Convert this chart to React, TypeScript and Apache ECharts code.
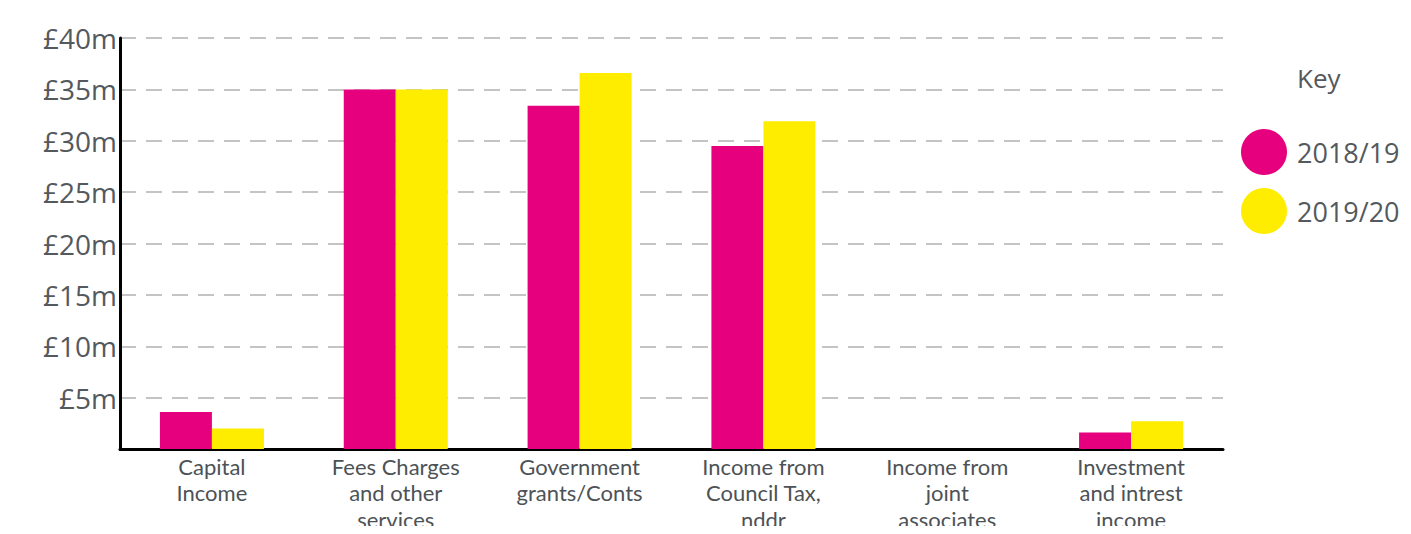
import React, { useEffect, useRef } from "react";
import * as echarts from "echarts";

const categories = [
  "Capital\nIncome",
  "Fees Charges\nand other\nservices",
  "Government\ngrants/Conts",
  "Income from\nCouncil Tax,\nnddr",
  "Income from\njoint\nassociates",
  "Investment\nand intrest\nincome",
];
const series2018 = [3.6, 35.0, 33.4, 29.5, 0, 1.6];
const series2019 = [2.0, 35.0, 36.6, 31.9, 0, 2.7];
const seriesNames = ["2018/19", "2019/20"];
const yTicks = [0, 5, 10, 15, 20, 25, 30, 35, 40];

const PINK = "#E6007E";
const YELLOW = "#FFED00";
const TEXT = "#54595d";
const FONT = "'Open Sans', 'Noto Sans', sans-serif";
const LABEL_FONT = "Lato, 'Open Sans', sans-serif";

export default function App() {
  const ref = useRef<HTMLDivElement>(null);
  useEffect(() => {
    if (!ref.current) return;
    const chart = echarts.init(ref.current, null, { renderer: "svg" });
    chart.setOption({
      animation: false,
      backgroundColor: "#ffffff",
      textStyle: { fontFamily: FONT },
      title: {
        text: "Key",
        left: 1292,
        top: 60,
        textStyle: { fontSize: 26, fontWeight: "normal", color: TEXT, fontFamily: FONT },
      },
      legend: {
        orient: "vertical",
        left: 1236,
        top: 124,
        icon: "circle",
        itemWidth: 46,
        itemHeight: 46,
        itemGap: 13,
        textStyle: { fontSize: 27, color: TEXT, fontFamily: FONT, padding: [0, 0, 0, 5] },
        data: seriesNames,
      },
      grid: {
        left: 120,
        right: 188,
        top: 38,
        bottom: 85,
        containLabel: false,
        outerBoundsMode: "none",
      },
      xAxis: {
        type: "category",
        data: categories,
        axisLine: { lineStyle: { color: "#000", width: 3 } },
        axisTick: { show: false },
        axisLabel: {
          fontSize: 22,
          lineHeight: 26.5,
          color: "#4d5256",
          margin: 4,
          interval: 0,
          fontFamily: LABEL_FONT,
        },
      },
      yAxis: {
        type: "value",
        min: yTicks[0],
        max: yTicks[yTicks.length - 1],
        interval: 5,
        axisLine: { show: true, lineStyle: { color: "#000", width: 3 } },
        axisTick: { show: false },
        axisLabel: {
          fontSize: 28,
          color: TEXT,
          margin: 3,
          fontFamily: FONT,
          formatter: (v: number) => (v === 0 ? "" : `£${v}m`),
        },
        splitLine: {
          show: true,
          lineStyle: { color: "#c4c4c4", width: 2, type: [16, 10] },
        },
      },
      series: [
        {
          name: seriesNames[0],
          type: "bar",
          data: series2018,
          barWidth: 52,
          barGap: "0%",
          itemStyle: { color: PINK },
        },
        {
          name: seriesNames[1],
          type: "bar",
          data: series2019,
          barWidth: 52,
          barGap: "0%",
          itemStyle: { color: YELLOW },
        },
      ],
    });
    return () => chart.dispose();
  }, []);
  return <div ref={ref} style={{ width: 1411, height: 534, margin: -8 }} />;
}
